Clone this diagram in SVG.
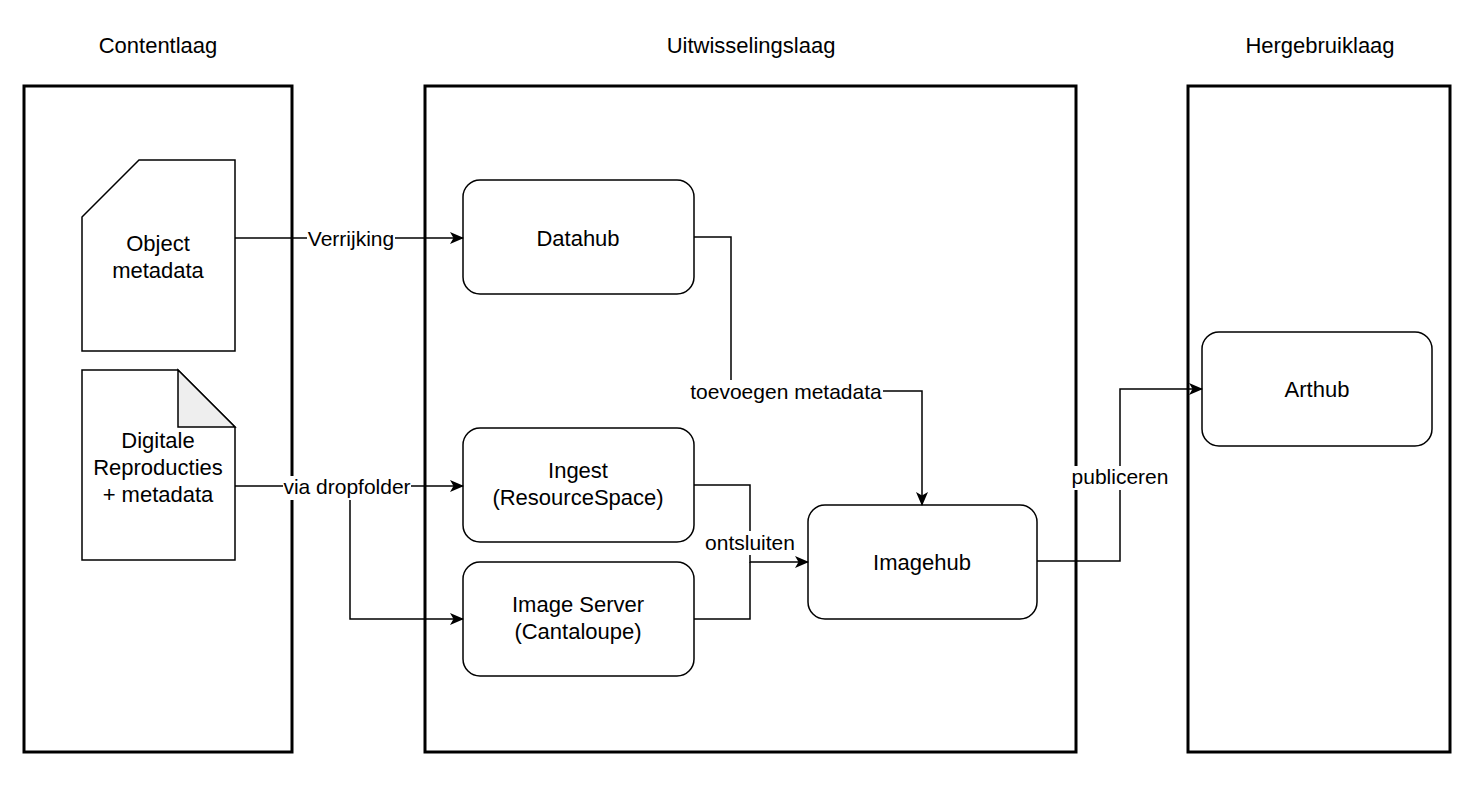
<svg xmlns="http://www.w3.org/2000/svg" width="1474" height="787" viewBox="0 0 1474 787">
<defs>
<style>
.t{font-family:"Liberation Sans",Arial,Helvetica,sans-serif;font-size:22px;fill:#000;text-anchor:middle}
.l{font-family:"Liberation Sans",Arial,Helvetica,sans-serif;font-size:21px;fill:#000;text-anchor:middle}
.cont{fill:#fff;stroke:#000;stroke-width:3}
.box{fill:#fff;stroke:#000;stroke-width:1.5}
.edge{fill:none;stroke:#000;stroke-width:1.5}
.lbg{fill:#fff}
</style>
<marker id="arr" viewBox="0 0 14 12" refX="13" refY="6" markerWidth="14" markerHeight="12" markerUnits="userSpaceOnUse" orient="auto">
<path d="M0,0 L14,6 L0,12 L3.5,6 Z" fill="#000"/>
</marker>
</defs>
<rect width="1474" height="787" fill="#fff"/>
<g id="contentlaag">
<rect class="cont" x="24" y="86" width="268" height="666"/>
<text class="t" x="158" y="53">Contentlaag</text>
</g>
<g id="uitwisselingslaag">
<rect class="cont" x="425" y="86" width="651" height="666"/>
<text class="t" x="751" y="53">Uitwisselingslaag</text>
</g>
<g id="hergebruiklaag">
<rect class="cont" x="1188" y="86" width="262" height="666"/>
<text class="t" x="1320" y="53">Hergebruiklaag</text>
</g>
<g id="object-metadata">
<path class="box" d="M82,217 L139,160 L235,160 L235,351 L82,351 Z"/>
<text class="t" x="158" y="251">Object</text>
<text class="t" x="158" y="278">metadata</text>
</g>
<g id="digitale-reproducties">
<path class="box" d="M82,370 L178,370 L235,427 L235,560 L82,560 Z"/>
<path d="M178,370 L178,427 L235,427 Z" fill="#eeeeee" stroke="#000" stroke-width="1.5" stroke-linejoin="miter"/>
<text class="t" x="158" y="448">Digitale</text>
<text class="t" x="158" y="475">Reproducties</text>
<text class="t" x="158" y="502">+ metadata</text>
</g>
<g id="datahub">
<rect class="box" x="463" y="180" width="231" height="114" rx="17"/>
<text class="t" x="578" y="246">Datahub</text>
</g>
<g id="ingest">
<rect class="box" x="463" y="428" width="231" height="114" rx="17"/>
<text class="t" x="578" y="478">Ingest</text>
<text class="t" x="578" y="505">(ResourceSpace)</text>
</g>
<g id="image-server">
<rect class="box" x="463" y="562" width="231" height="114" rx="17"/>
<text class="t" x="578" y="612">Image Server</text>
<text class="t" x="578" y="639">(Cantaloupe)</text>
</g>
<g id="imagehub">
<rect class="box" x="808" y="505" width="229" height="114" rx="17"/>
<text class="t" x="922" y="570">Imagehub</text>
</g>
<g id="arthub">
<rect class="box" x="1202" y="332" width="230" height="114" rx="17"/>
<text class="t" x="1317" y="397">Arthub</text>
</g>
<g id="connectors">
<path class="edge" d="M235,238 L463,238" marker-end="url(#arr)"/>
<path class="edge" d="M235,486 L463,486" marker-end="url(#arr)"/>
<path class="edge" d="M350,486 L350,619 L463,619" marker-end="url(#arr)"/>
<path class="edge" d="M694,237 L731,237 L731,391 L922,391 L922,505" marker-end="url(#arr)"/>
<path class="edge" d="M694,485 L750,485 L750,562 L808,562" marker-end="url(#arr)"/>
<path class="edge" d="M694,619 L750,619 L750,562"/>
<path class="edge" d="M1037,561 L1120,561 L1120,389 L1202,389" marker-end="url(#arr)"/>
<rect class="lbg" x="307" y="228" width="88" height="22"/>
<text class="l" x="351" y="246">Verrijking</text>
<rect class="lbg" x="283" y="476" width="128" height="24"/>
<text class="l" x="347" y="494">via dropfolder</text>
<rect class="lbg" x="689" y="380" width="194" height="24"/>
<text class="l" x="786" y="399">toevoegen metadata</text>
<rect class="lbg" x="704" y="531" width="92" height="24"/>
<text class="l" x="750" y="550">ontsluiten</text>
<rect class="lbg" x="1072" y="466" width="96" height="24"/>
<text class="l" x="1120" y="484">publiceren</text>
</g>
</svg>
